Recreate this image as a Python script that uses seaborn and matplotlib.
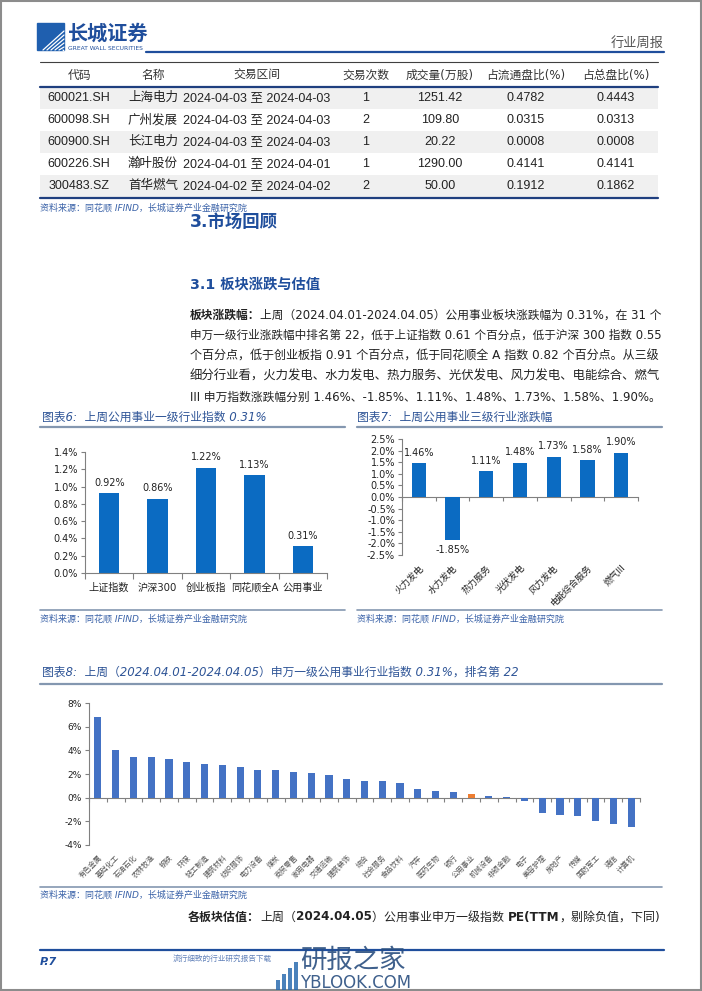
import numpy as np
import pandas as pd
import matplotlib
matplotlib.use("Agg")
import matplotlib.pyplot as plt
import seaborn as sns
from matplotlib.patches import Rectangle

# ---------------- data ----------------
tbl_header = ["代码", "名称", "交易区间", "交易次数", "成交量(万股)", "占流通盘比(%)", "占总盘比(%)"]
tbl_codes = ["600021.SH", "600098.SH", "600900.SH", "600226.SH", "300483.SZ"]
tbl_names = ["上海电力", "广州发展", "长江电力", "瀚叶股份", "首华燃气"]
tbl_ranges = ["2024-04-03 至 2024-04-03", "2024-04-03 至 2024-04-03", "2024-04-03 至 2024-04-03",
              "2024-04-01 至 2024-04-01", "2024-04-02 至 2024-04-02"]
tbl_counts = ["1", "2", "1", "1", "2"]
tbl_volume = ["1251.42", "109.80", "20.22", "1290.00", "50.00"]
tbl_float = ["0.4782", "0.0315", "0.0008", "0.4141", "0.1912"]
tbl_total = ["0.4443", "0.0313", "0.0008", "0.4141", "0.1862"]

c6_cats = ["上证指数", "沪深300", "创业板指", "同花顺全A", "公用事业"]
c6_vals = [0.92, 0.86, 1.22, 1.13, 0.31]

c7_cats = ["火力发电", "水力发电", "热力服务", "光伏发电", "风力发电", "电能综合服务", "燃气III"]
c7_vals = [1.46, -1.85, 1.11, 1.48, 1.73, 1.58, 1.90]

c8_cats = ["有色金属", "基础化工", "石油石化", "农林牧渔", "钢铁", "环保", "轻工制造", "建筑材料",
           "纺织服饰", "电力设备", "煤炭", "商贸零售", "家用电器", "交通运输", "建筑装饰", "综合",
           "社会服务", "食品饮料", "汽车", "医药生物", "银行", "公用事业", "机械设备", "非银金融",
           "电子", "美容护理", "房地产", "传媒", "国防军工", "通信", "计算机"]
c8_vals = [6.80, 4.05, 3.40, 3.40, 3.30, 3.00, 2.85, 2.80, 2.55, 2.35, 2.30, 2.20, 2.12, 1.95,
           1.55, 1.40, 1.40, 1.25, 0.75, 0.55, 0.50, 0.31, 0.10, 0.03, -0.30, -1.30, -1.45,
           -1.55, -1.95, -2.25, -2.50]
c8_highlight = "公用事业"

# ---------------- style ----------------
sns.set_theme(style="white")
plt.rcParams["font.family"] = ["DejaVu Sans", "Noto Sans CJK SC"]
plt.rcParams["axes.unicode_minus"] = False

W, H = 702, 991
fig = plt.figure(figsize=(W / 100, H / 100), dpi=100)
pg = fig.add_axes([0, 0, 1, 1])
pg.set_xlim(0, W)
pg.set_ylim(H, 0)
pg.axis("off")
renderer = fig.canvas.get_renderer()

NAVY = "#1F4E9C"
TITLE_C = "#2F5597"
SRC_C = "#3A62A8"
LINE_C = "#8497B0"
BAR_C = "#0B6BC2"
BAR8_C = "#4472C4"
ORANGE = "#ED7D31"
GREY = "#808080"
TXT = "#222222"


def add_ax(x0, y0, x1, y1):
    return fig.add_axes([x0 / W, 1 - y1 / H, (x1 - x0) / W, (y1 - y0) / H])


def rich(x, y, pieces, size, ha="left", color=TXT, fit=None):
    def widths(sz):
        ws = []
        for s, w in pieces:
            t = pg.text(0, 0, s, fontsize=sz, fontweight=w)
            ws.append(t.get_window_extent(renderer).width)
            t.remove()
        return ws
    ws = widths(size)
    if fit is not None:
        size = size * fit / sum(ws)
        ws = widths(size)
    total = sum(ws)
    cur = x if ha == "left" else x - total
    for (s, w), wd in zip(pieces, ws):
        pg.text(cur, y, s, fontsize=size, fontweight=w, va="center", ha="left", color=color)
        cur += wd


# page border
pg.add_patch(Rectangle((0.8, 0.8), W - 1.6, H - 1.6, fill=False, ec="#8c8c8c", lw=1.5))

# ---------------- header ----------------
pg.add_patch(Rectangle((37, 23), 27, 27, color="#1F5FAF"))
for k in range(6, 27, 4):
    pg.plot([37 + k, 64], [50, 23 + k + 2], color="white", lw=0.9)
pg.text(68, 34, "长城证券", fontsize=14.5, fontweight="bold", color=NAVY, va="center")
pg.text(68, 48, "GREAT WALL SECURITIES", fontsize=4.3, color=NAVY, va="center")
pg.text(664, 43, "行业周报", fontsize=9.5, color="#555555", va="center", ha="right")
pg.plot([146, 664], [52, 52], color=NAVY, lw=1.6)

# ---------------- table ----------------
col_x = [79, 153, 257, 366, 440, 526, 616]
pg.plot([40, 658], [62, 62], color="#404040", lw=0.8)
for i in (0, 2, 4):
    pg.add_patch(Rectangle((40, 87 + 22 * i), 618, 22, color="#F0F0F0", lw=0))
for cx, h in zip(col_x, tbl_header):
    pg.text(cx, 75, h, fontsize=8.5, color="#333333", ha="center", va="center")
tfam = ["Liberation Sans", "Noto Sans CJK SC"]
for i in range(len(tbl_codes)):
    row = [tbl_codes[i], tbl_names[i], tbl_ranges[i], tbl_counts[i], tbl_volume[i],
           tbl_float[i], tbl_total[i]]
    for cx, v in zip(col_x, row):
        pg.text(cx, 98 + 22 * i, v, fontsize=9, family=tfam, color="#222222",
                ha="center", va="center")
pg.plot([40, 658], [87, 87], color="#1F3F7F", lw=1.6)
pg.plot([40, 658], [198, 198], color="#1F3F7F", lw=1.6)
SRC = "资料来源：同花顺 IFIND，长城证券产业金融研究院"
pg.text(40, 208, SRC, fontsize=6.5, color=SRC_C, va="center", style="italic")

# ---------------- headings ----------------
pg.text(190, 222, "3.市场回顾", fontsize=12.5, fontweight="bold", color=NAVY, va="center")
pg.text(190, 285, "3.1 板块涨跌与估值", fontsize=10.3, fontweight="bold", color=NAVY, va="center")

para = [
    [("板块涨跌幅：", "bold"), ("上周（2024.04.01-2024.04.05）公用事业板块涨跌幅为 0.31%，在 31 个", "normal")],
    [("申万一级行业涨跌幅中排名第 22，低于上证指数 0.61 个百分点，低于沪深 300 指数 0.55", "normal")],
    [("个百分点，低于创业板指 0.91 个百分点，低于同花顺全 A 指数 0.82 个百分点。从三级", "normal")],
    [("细分行业看，火力发电、水力发电、热力服务、光伏发电、风力发电、电能综合、燃气", "normal")],
    [("III 申万指数涨跌幅分别 1.46%、-1.85%、1.11%、1.48%、1.73%、1.58%、1.90%。", "normal")],
]
for j, pieces in enumerate(para):
    rich(190, 315 + 20.5 * j, pieces, 10, fit=470)

# ---------------- chart titles / frames ----------------
pg.text(42, 417, "图表6:  上周公用事业一级行业指数 0.31%", fontsize=8.5, color=TITLE_C,
        va="center", style="italic")
pg.plot([40, 345], [427, 427], color=LINE_C, lw=1.6)
pg.plot([40, 345], [610, 610], color=LINE_C, lw=1.2)
pg.text(40, 619, SRC, fontsize=6.5, color=SRC_C, va="center", style="italic")

pg.text(357, 417, "图表7:  上周公用事业三级行业涨跌幅", fontsize=8.5, color=TITLE_C,
        va="center", style="italic")
pg.plot([357, 662], [427, 427], color=LINE_C, lw=1.6)
pg.plot([357, 662], [610, 610], color=LINE_C, lw=1.2)
pg.text(357, 619, SRC, fontsize=6.5, color=SRC_C, va="center", style="italic")

pg.text(42, 672, "图表8:  上周（2024.04.01-2024.04.05）申万一级公用事业行业指数 0.31%，排名第 22",
        fontsize=8.5, color=TITLE_C, va="center", style="italic")
pg.plot([40, 662], [684, 684], color=LINE_C, lw=1.6)
pg.plot([40, 662], [887, 887], color=LINE_C, lw=1.2)
pg.text(40, 895, SRC, fontsize=6.5, color=SRC_C, va="center", style="italic")


def style_axes(ax):
    for s in ["top", "right"]:
        ax.spines[s].set_visible(False)
    for s in ["left", "bottom"]:
        ax.spines[s].set_color(GREY)
        ax.spines[s].set_linewidth(0.8)
    ax.tick_params(axis="y", which="major", length=3, width=0.8, color=GREY,
                   direction="out", labelsize=7, labelcolor="#222222", pad=2, left=True)
    ax.set_xlabel("")
    ax.set_ylabel("")


# ---------------- chart 6 ----------------
ax6 = add_ax(85, 452, 327, 573)
df6 = pd.DataFrame({"cat": c6_cats, "val": c6_vals})
sns.barplot(data=df6, x="cat", y="val", color=BAR_C, width=0.42, saturation=1,
            linewidth=0, errorbar=None, ax=ax6)
style_axes(ax6)
ax6.set_xlim(-0.5, len(c6_cats) - 0.5)
ax6.set_ylim(0, 1.4)
yt6 = np.round(np.arange(0, 1.41, 0.2), 1)
ax6.set_yticks(yt6, [f"{v:.1f}%" for v in yt6])
ax6.set_xticks(range(len(c6_cats)), c6_cats)
ax6.set_xticks(np.arange(-0.5, len(c6_cats), 1), minor=True)
ax6.tick_params(axis="x", which="major", length=0, labelsize=7.3, pad=7, labelcolor="#222222")
ax6.tick_params(axis="x", which="minor", length=4, width=0.8, color=GREY, direction="out", bottom=True)
ax6.bar_label(ax6.containers[0], labels=[f"{v:.2f}%" for v in c6_vals], fontsize=7,
              padding=4, color="#222222")

# ---------------- chart 7 ----------------
ax7 = add_ax(402, 439, 638, 555)
df7 = pd.DataFrame({"cat": c7_cats, "val": c7_vals})
sns.barplot(data=df7, x="cat", y="val", color=BAR_C, width=0.42, saturation=1,
            linewidth=0, errorbar=None, ax=ax7)
style_axes(ax7)
ax7.spines["bottom"].set_visible(False)
ax7.set_xlim(-0.5, len(c7_cats) - 0.5)
ax7.set_ylim(-2.5, 2.5)
yt7 = np.round(np.arange(-2.5, 2.51, 0.5), 1)
ax7.set_yticks(yt7, [f"{v:.1f}%" for v in yt7])
ax7.set_xticks(range(len(c7_cats)), c7_cats, rotation=45, ha="right", rotation_mode="anchor")
ax7.tick_params(axis="x", which="major", length=0, labelsize=6.5, pad=6, labelcolor="#222222")
sec7 = ax7.secondary_xaxis(0.5 - 1e-9)
sec7.set_xticks(np.arange(-0.5, len(c7_cats), 1))
sec7.set_xticklabels([])
sec7.tick_params(length=3, width=0.8, color=GREY, direction="out")
sec7.spines["bottom"].set_color(GREY)
sec7.spines["bottom"].set_linewidth(0.8)
ax7.bar_label(ax7.containers[0], labels=[f"{v:.2f}%" for v in c7_vals], fontsize=7,
              padding=4, color="#222222")

# ---------------- chart 8 ----------------
ax8 = add_ax(89, 703, 640, 845)
df8 = pd.DataFrame({"cat": c8_cats, "val": c8_vals})
pal8 = {c: (ORANGE if c == c8_highlight else BAR8_C) for c in c8_cats}
sns.barplot(data=df8, x="cat", y="val", hue="cat", palette=pal8, legend=False,
            width=0.4, saturation=1, linewidth=0, errorbar=None, ax=ax8)
style_axes(ax8)
ax8.spines["bottom"].set_visible(False)
ax8.set_xlim(-0.5, len(c8_cats) - 0.5)
ax8.set_ylim(-4, 8)
yt8 = list(range(-4, 9, 2))
ax8.set_yticks(yt8, [f"{v}%" for v in yt8])
ax8.tick_params(axis="y", labelsize=6.5)
ax8.set_xticks(range(len(c8_cats)), c8_cats, rotation=45, ha="right", rotation_mode="anchor")
ax8.tick_params(axis="x", which="major", length=0, labelsize=5.2, pad=6, labelcolor="#555555")
sec8 = ax8.secondary_xaxis(4 / 12)
sec8.set_xticks(np.arange(-0.5, len(c8_cats), 1))
sec8.set_xticklabels([])
sec8.tick_params(length=3, width=0.8, color=GREY, direction="out")
sec8.spines["bottom"].set_color(GREY)
sec8.spines["bottom"].set_linewidth(0.8)

# ---------------- bottom text ----------------
rich(660, 917, [("各板块估值：", "bold"), ("上周（", "normal"), ("2024.04.05", "bold"),
                ("）公用事业申万一级指数 ", "normal"), ("PE(TTM", "bold"),
                ("，剔除负值，下同)", "normal")], 10, ha="right", fit=470)

pg.plot([40, 664], [950, 950], color=NAVY, lw=1.6)
pg.text(40, 962, "P.7", fontsize=8, fontweight="bold", style="italic", color=NAVY, va="center")

# watermark
WM = "#2B6CB0"
for k, hgt in enumerate([10, 16, 22, 28]):
    pg.add_patch(Rectangle((276 + k * 6, 990 - hgt), 4, hgt, color=WM, alpha=0.85, lw=0))
pg.text(300, 961, "研报之家", fontsize=19, color="#2A4F80", va="center", alpha=0.9)
pg.text(300, 983, "YBLOOK.COM", fontsize=12, color="#2A4F80", va="center", alpha=0.9)
pg.text(272, 958, "流行细致的行业研究报告下载", fontsize=5.5, color="#3A62A8", va="center",
        ha="right", style="italic", alpha=0.8)

fig.savefig("out.png", dpi=100)
